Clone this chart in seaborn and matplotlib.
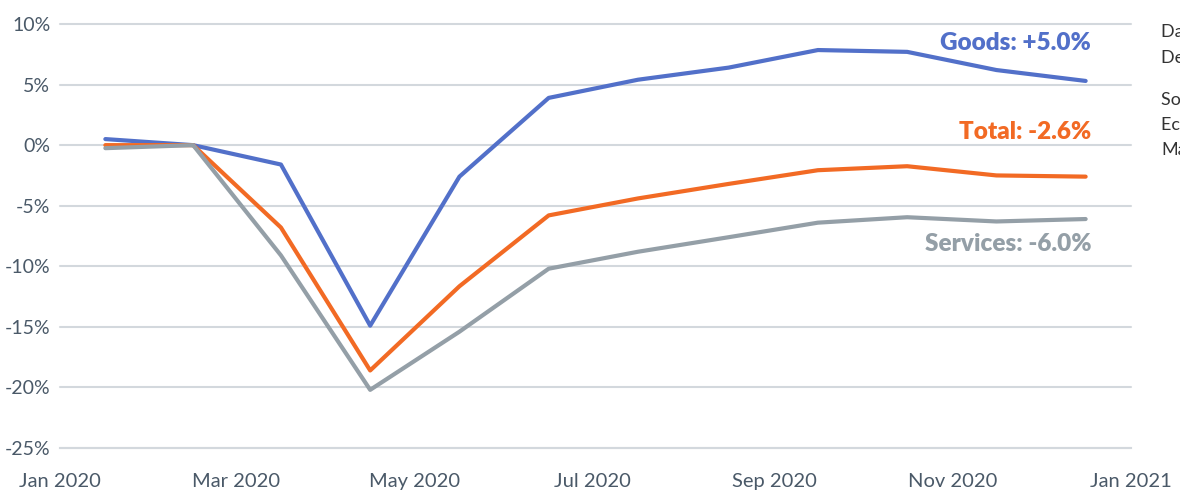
import matplotlib
matplotlib.use("Agg")
import matplotlib.pyplot as plt
import matplotlib.dates as mdates
import pandas as pd
import seaborn as sns

# Monthly values, % change vs Feb 2020
month_starts = pd.date_range("2020-01-01", periods=13, freq="MS")
months = month_starts[:-1] + (month_starts[1:] - month_starts[:-1]) / 2
goods = [0.5, 0.0, -1.6, -14.9, -2.6, 3.9, 5.4, 6.4, 7.85, 7.7, 6.2, 5.3]
total = [0.0, 0.0, -6.8, -18.6, -11.65, -5.8, -4.4, -3.2, -2.07, -1.74, -2.5, -2.6]
services = [-0.25, 0.0, -9.1, -20.2, -15.4, -10.2, -8.8, -7.6, -6.4, -5.95, -6.3, -6.1]

series_names = ["Goods", "Total", "Services"]
end_labels = ["Goods: +5.0%", "Total: -2.6%", "Services: -6.0%"]
colors = ["#5270c9", "#f26a24", "#949fa7"]
label_offsets = [27, 32, -18]

side_notes = ["Data are seasonally adjusted", "December 2020.", "Source: Bureau of",
              "Economic Analysis,", "Macrobond"]

df = pd.DataFrame({"date": list(months) * 3,
                   "value": goods + total + services,
                   "series": [s for s in series_names for _ in range(12)]})

sns.set_style("white")
plt.rcParams["font.family"] = ["Lato", "DejaVu Sans"]

fig = plt.figure(figsize=(11.8, 4.91), dpi=100)
ax = fig.add_axes([60 / 1180, 43 / 491, 1071 / 1180, 424 / 491])

sns.lineplot(data=df, x="date", y="value", hue="series", palette=colors,
             hue_order=series_names, linewidth=3, ax=ax, legend=False)
for line in ax.get_lines():
    line.set_clip_on(False)
    line.set_solid_joinstyle("round")

ax.set_xlim(pd.Timestamp("2020-01-01"), pd.Timestamp("2021-01-01"))
ax.set_ylim(-25, 10)
ax.set_yticks(range(-25, 11, 5))
ax.set_yticklabels([f"{v}%" for v in range(-25, 11, 5)])
ax.xaxis.set_major_locator(mdates.MonthLocator(bymonth=[1, 3, 5, 7, 9, 11]))
ax.xaxis.set_major_formatter(mdates.DateFormatter("%b %Y"))
ax.set_xlabel("")
ax.set_ylabel("")

grid_c = "#d3d8dd"
ax.grid(axis="y", color=grid_c, linewidth=1.5)
ax.set_axisbelow(True)
for gl in ax.get_ygridlines():
    gl.set_clip_on(False)
for s in ["top", "right", "left"]:
    ax.spines[s].set_visible(False)
ax.spines["bottom"].set_color(grid_c)
ax.spines["bottom"].set_linewidth(1.5)

tick_c = "#4a5968"
ax.tick_params(axis="y", length=0, pad=7, labelsize=14, labelcolor=tick_c)
ax.tick_params(axis="x", length=7, width=1.5, color=grid_c, pad=11,
               labelsize=14.5, labelcolor=tick_c)

for name, lab, c, off in zip(series_names, end_labels, colors, label_offsets):
    vals = df[df.series == name]
    ax.annotate(lab, xy=(vals.date.iloc[-1], vals.value.iloc[-1]),
                xytext=(4, off), textcoords="offset points",
                ha="right", va="center", color=c, fontsize=17.5,
                fontweight="heavy")

ys = [32, 58, 100, 125, 150]
for t, y in zip(side_notes, ys):
    fig.text(1161 / 1180, 1 - y / 491, t, ha="left", va="center",
             fontsize=13, color="#333333")

fig.savefig("out.png", dpi=100)
